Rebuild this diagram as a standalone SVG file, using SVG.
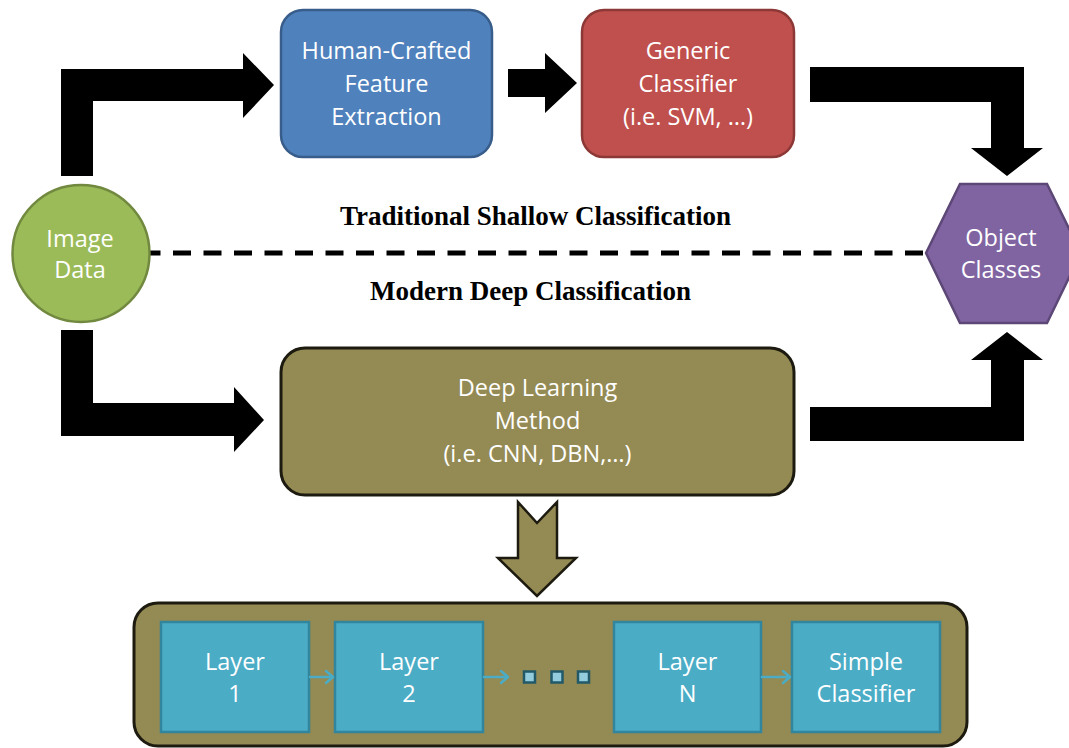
<svg xmlns="http://www.w3.org/2000/svg" width="1069" height="748" viewBox="0 0 1069 748">
<style>
.lbl{font-family:"Open Sans","Liberation Sans",sans-serif;font-size:23.5px;fill:#ffffff;text-anchor:middle}
.ttl{font-family:"Liberation Serif","Times New Roman",serif;font-size:27px;font-weight:bold;fill:#000000;text-anchor:middle}
.blk{fill:#000000}
.layer{fill:#4BACC6;stroke:#31859C;stroke-width:2.5}
.dot{fill:#93CDDD;stroke:#215968;stroke-width:2.5}
.small{stroke:#4BACC6;stroke-width:2.5;fill:none;stroke-linecap:round;stroke-linejoin:round}
</style>
<rect width="1069" height="748" fill="#ffffff"/>
<g id="connectors">
  <line x1="150" y1="253" x2="926" y2="253" stroke="#000" stroke-width="5" stroke-dasharray="18 12.5" stroke-dashoffset="7.5"/>
  <polygon class="blk" points="61,176 61,69 243,69 243,53 274,85 243,118 243,101 93,101 93,176"/>
  <polygon class="blk" points="508,69 545,69 545,53 577,83 545,113 545,97 508,97"/>
  <polygon class="blk" points="810,67 1024,67 1024,148 1043,148 1007,176 971,148 991,148 991,102 810,102"/>
  <polygon class="blk" points="61,330 93,330 93,403 234,403 234,387 264,420 234,452 234,436 61,436"/>
  <polygon class="blk" points="810,441 810,407 991,407 991,360 971,360 1007,332 1043,360 1024,360 1024,441"/>
  <polygon points="518,502 537,523 557,502 557,558 576,558 537,596 498,558 518,558" fill="#948A54" stroke="#1D1B10" stroke-width="2.5" stroke-linejoin="miter"/>
</g>
<g id="label-traditional"><text class="ttl" x="535.5" y="225">Traditional Shallow Classification</text></g>
<g id="label-modern"><text class="ttl" x="530.5" y="300">Modern Deep Classification</text></g>
<g id="image-data">
  <circle cx="81" cy="253.5" r="68.5" fill="#9BBB59" stroke="#71893F" stroke-width="2.5"/>
  <text class="lbl" x="80" y="247">Image</text>
  <text class="lbl" x="80" y="278">Data</text>
</g>
<g id="human-crafted">
  <rect x="281" y="10" width="211" height="147" rx="22" fill="#4F81BD" stroke="#385D8A" stroke-width="2.5"/>
  <text class="lbl" x="386.5" y="59">Human-Crafted</text>
  <text class="lbl" x="386.5" y="92">Feature</text>
  <text class="lbl" x="386.5" y="125">Extraction</text>
</g>
<g id="generic-classifier">
  <rect x="582" y="10" width="212" height="147" rx="22" fill="#C0504D" stroke="#8C3836" stroke-width="2.5"/>
  <text class="lbl" x="688" y="59">Generic</text>
  <text class="lbl" x="688" y="92">Classifier</text>
  <text class="lbl" x="688" y="125">(i.e. SVM, …)</text>
</g>
<g id="object-classes">
  <polygon points="926,253 960,184 1047,184 1081,253 1047,323 960,323" fill="#8064A2" stroke="#5C4776" stroke-width="2.5"/>
  <text class="lbl" x="1001" y="246">Object</text>
  <text class="lbl" x="1001" y="278">Classes</text>
</g>
<g id="deep-learning">
  <rect x="281" y="348" width="513" height="147" rx="24" fill="#948A54" stroke="#1D1B10" stroke-width="3"/>
  <text class="lbl" x="537.5" y="396">Deep Learning</text>
  <text class="lbl" x="537.5" y="429">Method</text>
  <text class="lbl" x="537.5" y="462">(i.e. CNN, DBN,…)</text>
</g>
<g id="layers-container">
  <rect x="134" y="603" width="833" height="143" rx="24" fill="#948A54" stroke="#1D1B10" stroke-width="3"/>
</g>
<g id="layer-1">
  <rect class="layer" x="161" y="622" width="148" height="110"/>
  <text class="lbl" x="235" y="670">Layer</text>
  <text class="lbl" x="235" y="702">1</text>
</g>
<g id="layer-2">
  <rect class="layer" x="335" y="622" width="148" height="110"/>
  <text class="lbl" x="409" y="670">Layer</text>
  <text class="lbl" x="409" y="702">2</text>
</g>
<g id="ellipsis">
  <rect class="dot" x="524" y="671.5" width="11" height="11"/>
  <rect class="dot" x="551.5" y="671.5" width="11" height="11"/>
  <rect class="dot" x="578" y="671.5" width="11" height="11"/>
</g>
<g id="layer-n">
  <rect class="layer" x="614" y="622" width="147" height="110"/>
  <text class="lbl" x="687.5" y="670">Layer</text>
  <text class="lbl" x="687.5" y="702">N</text>
</g>
<g id="simple-classifier">
  <rect class="layer" x="792" y="622" width="148" height="110"/>
  <text class="lbl" x="866" y="670">Simple</text>
  <text class="lbl" x="866" y="702">Classifier</text>
</g>
<g id="layer-connectors">
  <path class="small" d="M310,677 H333 M326,671 L333,677 L326,683"/>
  <path class="small" d="M484,677 H508 M501,671 L508,677 L501,683"/>
  <path class="small" d="M762,677 H790 M783,671 L790,677 L783,683"/>
</g>
</svg>
